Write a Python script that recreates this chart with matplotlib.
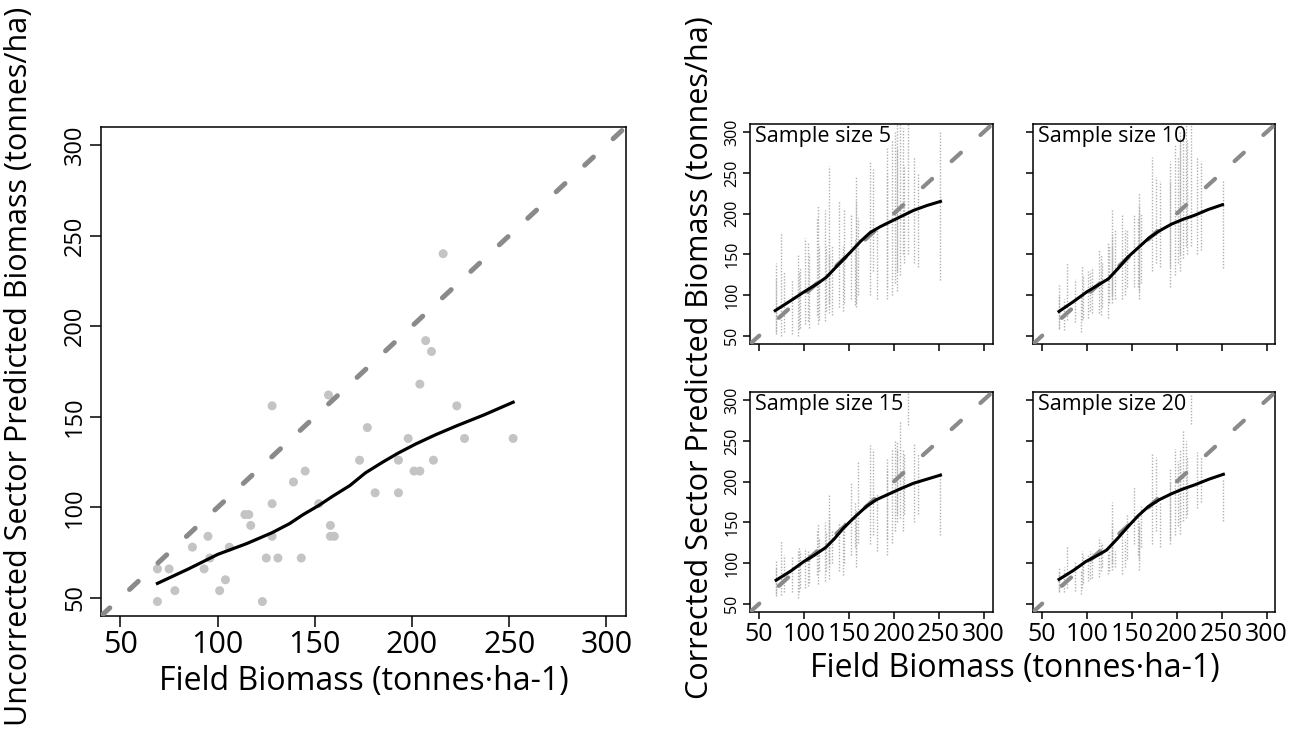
import matplotlib
matplotlib.use("Agg")
import matplotlib.pyplot as plt
import numpy as np

plt.rcParams['font.family'] = ['Open Sans', 'DejaVu Sans']
plt.rcParams['lines.scale_dashes'] = False

# ---- left panel: uncorrected predictions per field plot ----
field_x = [69, 69, 75, 78, 87, 93, 95, 96, 101, 104, 106, 114, 116, 117, 123,
           125, 128, 128, 128, 131, 139, 143, 145, 152, 158, 158, 157, 160, 173, 177,
           181, 193, 193, 198, 201, 204, 204, 207, 210, 211, 216, 223, 227, 252]
pred_y = [66, 48, 66, 54, 78, 66, 84, 72, 54, 60, 78, 96, 96, 90, 48,
          72, 102, 84, 156, 72, 114, 72, 120, 102, 90, 84, 162, 84, 126, 144,
          108, 126, 108, 138, 120, 120, 168, 192, 186, 126, 240, 156, 138, 138]

# smooth (loess) fit
fit_x = [69, 85, 100, 115, 128, 137, 144, 152, 159, 168, 176, 185, 193, 202, 212, 223, 237, 252]
fit_y = [58, 66, 74, 80, 86, 91, 96, 101, 106, 112, 119, 125, 130, 135, 140, 145, 151, 158]

# ---- right panels: range of corrected predictions per plot (lo, hi) ----
samples = ["Sample size 5", "Sample size 10", "Sample size 15", "Sample size 20"]

lo_5 = [52, 55, 50, 55, 52, 50, 58, 60, 65, 68, 60, 75, 65, 70, 68,
        80, 78, 85, 90, 75, 85, 80, 90, 95, 85, 90, 88, 100, 100, 130,
        95, 95, 110, 100, 115, 105, 130, 125, 150, 140, 150, 140, 135, 118]
hi_5 = [140, 120, 178, 130, 118, 150, 130, 135, 170, 165, 150, 195, 210, 160, 205,
        160, 258, 170, 150, 160, 215, 160, 205, 200, 245, 215, 170, 195, 265, 255,
        185, 280, 250, 290, 300, 310, 280, 310, 305, 260, 310, 270, 250, 300]

lo_10 = [58, 60, 57, 70, 67, 55, 70, 72, 72, 80, 78, 78, 75, 85, 72,
         90, 90, 95, 100, 95, 95, 100, 110, 110, 95, 105, 110, 115, 130, 140,
         135, 110, 135, 125, 140, 130, 150, 145, 160, 150, 160, 150, 155, 133]
hi_10 = [112, 100, 95, 140, 120, 100, 137, 125, 130, 130, 135, 155, 150, 140, 165,
         160, 205, 175, 160, 180, 200, 180, 180, 200, 225, 210, 195, 200, 270, 245,
         240, 265, 240, 285, 270, 300, 290, 300, 310, 290, 310, 270, 265, 240]

lo_15 = [60, 62, 61, 65, 65, 57, 65, 70, 70, 72, 75, 85, 74, 90, 78,
         90, 80, 95, 100, 100, 90, 86, 100, 110, 95, 110, 120, 125, 123, 135,
         115, 110, 130, 125, 140, 160, 150, 155, 140, 160, 270, 151, 160, 135]
hi_15 = [102, 95, 127, 110, 108, 115, 120, 115, 118, 115, 112, 140, 149, 130, 150,
         140, 185, 160, 150, 140, 150, 145, 150, 200, 165, 150, 175, 225, 245, 240,
         185, 228, 215, 240, 250, 250, 240, 275, 240, 235, 310, 247, 235, 212]

lo_20 = [66, 65, 65, 70, 66, 62, 70, 75, 78, 80, 82, 83, 90, 95, 87,
         90, 91, 95, 100, 95, 87, 95, 105, 123, 91, 105, 110, 120, 123, 140,
         120, 123, 130, 135, 145, 136, 150, 152, 155, 160, 271, 168, 175, 152]
hi_20 = [95, 90, 95, 121, 103, 90, 115, 110, 110, 115, 112, 132, 125, 125, 111,
         115, 175, 150, 140, 115, 140, 130, 160, 193, 152, 145, 160, 170, 234, 230,
         175, 217, 200, 240, 225, 221, 240, 262, 250, 230, 307, 236, 230, 205]

lows = [lo_5, lo_10, lo_15, lo_20]
highs = [hi_5, hi_10, hi_15, hi_20]

fit_sx = [[68, 85, 103, 115, 125, 138, 152, 163, 174, 185, 196, 209, 222, 237, 252],
          [69, 85, 100, 112, 124, 135, 146, 158, 169, 181, 194, 207, 220, 235, 251],
          [69, 85, 100, 112, 124, 134, 144, 157, 170, 181, 193, 207, 222, 237, 252],
          [69, 85, 99, 111, 122, 134, 146, 157, 168, 181, 194, 207, 220, 236, 252]]
fit_sy = [[81, 93, 106, 114, 122, 137, 153, 166, 177, 184, 190, 197, 204, 210, 215],
          [80, 92, 104, 112, 120, 133, 147, 159, 170, 179, 187, 193, 198, 205, 211],
          [79, 90, 102, 110, 119, 130, 143, 157, 170, 178, 184, 191, 198, 203, 208],
          [80, 91, 102, 109, 116, 130, 145, 158, 169, 178, 185, 191, 196, 203, 209]]

ticks = [50, 100, 150, 200, 250, 300]
lims = (40, 310)
dash_col = '#8a8a8a'
pt_col = '#c4c4c4'


def style_axes(ax, tick_len, x_size, y_size, show_x, show_y):
    ax.set_xlim(lims)
    ax.set_ylim(lims)
    ax.set_xticks(ticks)
    ax.set_yticks(ticks)
    for s in ax.spines.values():
        s.set_linewidth(1.1)
    ax.tick_params(direction='out', length=tick_len, width=1.1, pad=2)
    if show_x:
        ax.set_xticklabels([str(t) for t in ticks], fontsize=x_size)
    else:
        ax.set_xticklabels([])
    if show_y:
        ax.set_yticklabels([str(t) for t in ticks], rotation=90, va='center',
                           fontsize=y_size)
    else:
        ax.set_yticklabels([])


fig = plt.figure(figsize=(12.99, 7.29), dpi=100)

# left big panel
ax = fig.add_axes([0.0778, 0.155, 0.404, 0.671])
ax.plot(lims, lims, color=dash_col, lw=3.6, dashes=(8.6, 19.4),
        dash_capstyle='round', zorder=3)
ax.scatter(field_x, pred_y, s=42, color=pt_col, edgecolors='none', zorder=2)
ax.plot(fit_x, fit_y, color='black', lw=2.3, zorder=4)
style_axes(ax, 8, 22, 17, True, True)
ax.set_xlabel("Field Biomass (tonnes\u00b7ha-1)", fontsize=23, labelpad=4)
fig.text(0.015, 0.497, "Uncorrected Sector Predicted Biomass (tonnes/ha)",
         rotation=90, fontsize=22, ha='center', va='center')

# right 2x2 panels
pos = [[0.5774, 0.5281], [0.7952, 0.5281], [0.5774, 0.1605], [0.7952, 0.1605]]
for i in range(4):
    ax = fig.add_axes([pos[i][0], pos[i][1], 0.1867, 0.3018])
    ax.vlines(field_x, lows[i], highs[i], colors='#b0b0b0', lw=1.0,
              linestyles=(0, (1, 1.2)), zorder=1)
    ax.plot(lims, lims, color=dash_col, lw=3.0, dashes=(9, 19),
            dash_capstyle='round', zorder=3)
    ax.plot(fit_sx[i], fit_sy[i], color='black', lw=2.2, zorder=4)
    style_axes(ax, 5, 18, 11.5, i >= 2, i % 2 == 0)
    ax.text(0.02, 0.99, samples[i], transform=ax.transAxes, fontsize=15.5,
            ha='left', va='top')

fig.text(0.781, 0.083, "Field Biomass (tonnes\u00b7ha-1)", fontsize=23,
         ha='center', va='center')
fig.text(0.539, 0.51, "Corrected Sector Predicted Biomass (tonnes/ha)",
         rotation=90, fontsize=22, ha='center', va='center')

fig.savefig("out.png", dpi=100)
